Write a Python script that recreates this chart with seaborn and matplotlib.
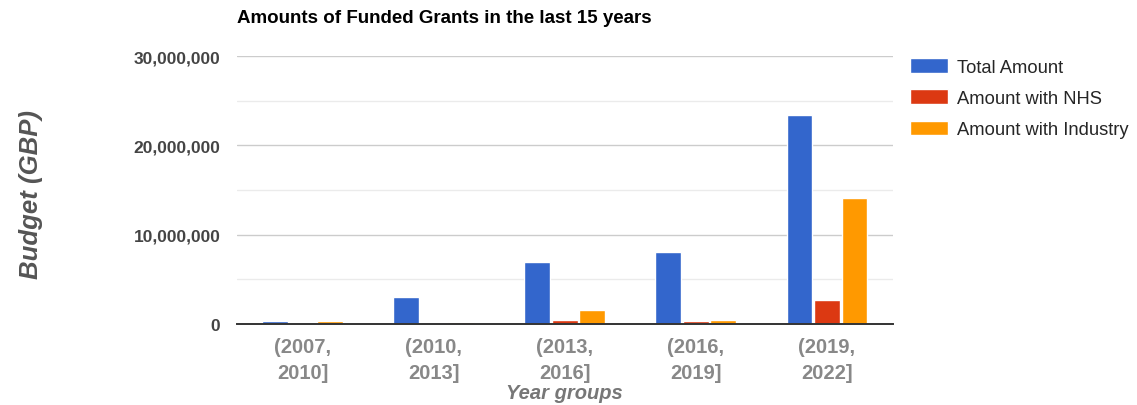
import pandas as pd
import matplotlib.pyplot as plt
import seaborn as sns
from matplotlib.ticker import FuncFormatter, MultipleLocator

# Data
year_groups = ["(2007,\n2010]", "(2010,\n2013]", "(2013,\n2016]", "(2016,\n2019]", "(2019,\n2022]"]
total_amount = [350000, 3000000, 6950000, 8050000, 23400000]
nhs_amount = [20000, 0, 420000, 330000, 2700000]
industry_amount = [300000, 250000, 1570000, 450000, 14100000]
series_names = ["Total Amount", "Amount with NHS", "Amount with Industry"]
colors = ["#3366CC", "#DC3912", "#FF9900"]

# Long-form table for seaborn
rows = []
for name, vals in zip(series_names, [total_amount, nhs_amount, industry_amount]):
    for g, v in zip(year_groups, vals):
        rows.append({"Year group": g, "Series": name, "Amount": v})
df = pd.DataFrame(rows)

sns.set_style("white")
plt.rcParams["font.family"] = ["Liberation Sans", "DejaVu Sans"]

fig = plt.figure(figsize=(11.37, 4.06), dpi=100)
ax = fig.add_axes([0.2084, 0.1995, 0.5766, 0.6601])

sns.barplot(data=df, x="Year group", y="Amount", hue="Series", palette=colors,
            width=0.63, gap=0.06, ax=ax, saturation=1, errorbar=None)

ax.set_ylim(0, 30000000)
ax.set_xlim(-0.5, 4.5)
ax.yaxis.set_major_locator(MultipleLocator(10000000))
ax.yaxis.set_minor_locator(MultipleLocator(5000000))
ax.yaxis.set_major_formatter(FuncFormatter(lambda v, p: f"{int(v):,}"))
ax.grid(axis="y", which="major", color="#cccccc", linewidth=1)
ax.grid(axis="y", which="minor", color="#ebebeb", linewidth=1)
ax.set_axisbelow(True)
for s in ["left", "right", "top"]:
    ax.spines[s].set_visible(False)
ax.spines["bottom"].set_color("#333333")
ax.spines["bottom"].set_linewidth(1.4)

ax.tick_params(axis="y", which="both", length=0, pad=12, labelsize=12.5, labelcolor="#444444")
ax.tick_params(axis="x", length=0, pad=9, labelsize=14.5, labelcolor="#888888")
for lbl in ax.get_yticklabels() + ax.get_xticklabels():
    lbl.set_fontweight("bold")
for lbl in ax.get_xticklabels():
    lbl.set_linespacing(1.5)

ax.set_xlabel("Year groups", fontsize=14.5, fontweight="bold", style="italic", color="#777777", labelpad=1)
ax.set_ylabel("")
fig.text(0.027, 0.52, "Budget (GBP)", rotation=90, ha="center", va="center",
         fontsize=18.5, fontweight="bold", style="italic", color="#555555")

fig.text(0.2084, 0.955, "Amounts of Funded Grants in the last 15 years",
         fontsize=13.5, fontweight="bold", color="#000000", ha="left", va="center")

ax.legend(title=None, loc="upper left", bbox_to_anchor=(1.016, 1.019), frameon=False,
          fontsize=13.2, handlelength=2.05, handleheight=0.85, labelspacing=0.74,
          handletextpad=0.5, borderaxespad=0)

fig.savefig("out.png", dpi=100)
